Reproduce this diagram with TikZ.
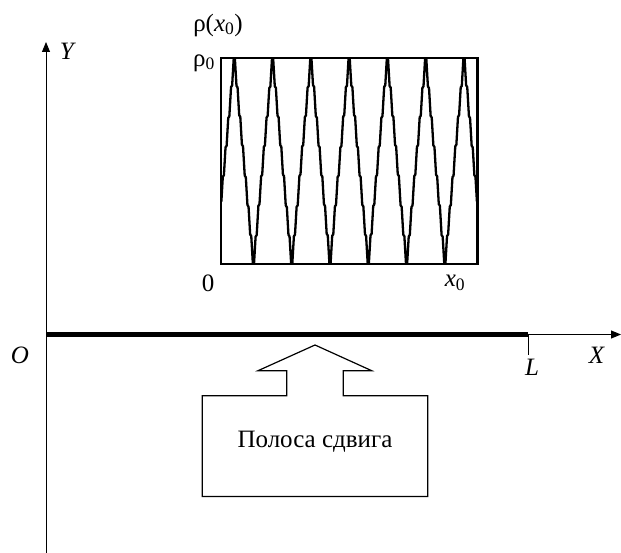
\documentclass[tikz,border=0pt]{standalone}
\usepackage{fontspec}
\setmainfont{Liberation Serif}
\usetikzlibrary{arrows.meta}
\begin{document}
\begin{tikzpicture}[x=1pt,y=-1pt,
  declare function={ph(\t)=mod(\t-234.3+382.8,38.28)/38.28;
                    fr(\t)=mod(14*ph(\t),1);},
  lbl/.style={font=\fontsize{25}{30}\selectfont, inner sep=0pt},
  axline/.style={line width=1pt},
  tip/.style={-{Triangle[length=10pt,width=8pt]}},
  thickline/.style={line width=4.5pt},
  framebox/.style={line width=2.4pt},
  wave/.style={line width=2.3pt, line join=round},
  shapeline/.style={line width=1.2pt, line join=miter}]
\useasboundingbox (0,0) rectangle (621,553);
% axes
\coordinate (O) at (46,334.5);
\coordinate (ytop) at (46,42);
\coordinate (ybot) at (46,553);
\coordinate (xend) at (621,334.5);
\coordinate (Lp) at (528.3,334.5);
\coordinate (Ltick) at (528.3,355);
\draw[axline,tip] (ybot) -- (ytop);
\draw[axline,tip] (O) -- (xend);
\draw[thickline] (O) -- (Lp);
\draw[axline] (Lp) -- (Ltick);
\node[lbl] (Olbl) at (20,355) {\textit{O}};
\node[lbl] (Ylbl) at (68,51) {\textit{Y}};
\node[lbl] (Xlbl) at (597,355) {\textit{X}};
\node[lbl] (Llbl) at (532,367) {\textit{L}};
% wave box
\coordinate (bl) at (221,264);
\coordinate (tr) at (477.3,58);
\begin{scope}
\clip (bl) rectangle (tr);
\draw[wave] plot[domain=221:477.3, samples=1800, variable=\t]
  ({\t - 1.0*(fr(\t)-0.5)},
   {161 - 104*(2*abs(1-2*ph(\t))-1)});
\end{scope}
\draw[framebox] (bl) rectangle (tr);
\node[lbl] (rho) at (218,25) {ρ(\textit{x}\textsubscript{0})};
\node[lbl] (rho0) at (204,63) {ρ\textsubscript{0}};
\node[lbl] (zero) at (208,283) {0};
\node[lbl] (x0) at (455,283) {\textit{x}\textsubscript{0}};
% shear band arrow
\draw[shapeline] (315,345) -- (371.7,370.7) -- (343.3,370.7) -- (343.3,395.7)
  -- (427.7,395.7) -- (427.7,496.5) -- (202.3,496.5) -- (202.3,395.7)
  -- (286.7,395.7) -- (286.7,370.7) -- (258,370.7) -- cycle;
\node[lbl] (band) at (315,441.7) {Полоса сдвига};
\end{tikzpicture}
\end{document}
